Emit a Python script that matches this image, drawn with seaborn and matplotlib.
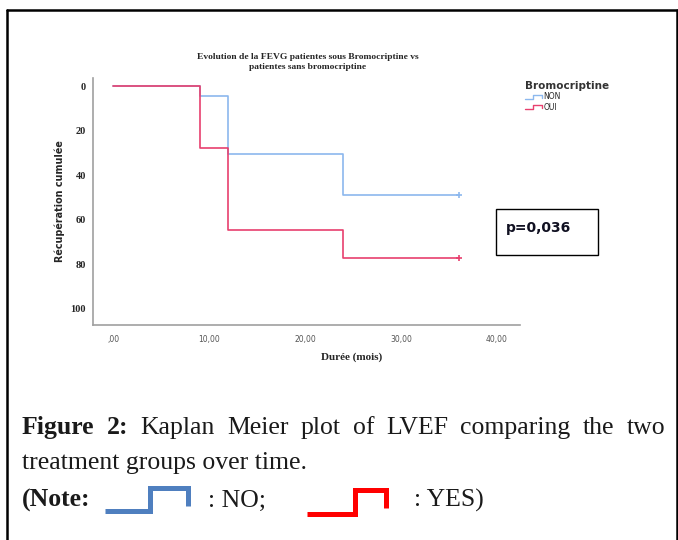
import numpy as np
import pandas as pd
import matplotlib
matplotlib.use("Agg")
import matplotlib.pyplot as plt
import seaborn as sns
from matplotlib.lines import Line2D
from matplotlib.legend_handler import HandlerBase
from matplotlib.patches import Rectangle

# Kaplan-Meier step values
time_points = [0, 9, 12, 24, 36]
recup_non = [0, 4.5, 30.5, 49, 49]
recup_oui = [0, 28, 64.5, 77, 77]
groups = ["NON", "OUI"]
x_ticks = [0, 10, 20, 30, 40]
x_labels = [",00", "10,00", "20,00", "30,00", "40,00"]
y_ticks = [0, 20, 40, 60, 80, 100]

colors = {"NON": "#8cb8ee", "OUI": "#e8406e"}

df = pd.DataFrame({
    "time": time_points * 2,
    "recup": recup_non + recup_oui,
    "group": ["NON"] * len(time_points) + ["OUI"] * len(time_points),
})

sns.set_style("white")
W, H = 678, 540
fig = plt.figure(figsize=(W / 100, H / 100), dpi=100)
fig.patch.set_facecolor("white")

def fx(px):
    return px / W

def fy(py):
    return 1 - py / H

ax = fig.add_axes([fx(93), fy(325), fx(520) - fx(93), fy(78) - fy(325)])
sns.lineplot(data=df, x="time", y="recup", hue="group", palette=colors,
             drawstyle="steps-post", linewidth=1.2, ax=ax, legend=False,
             estimator=None)
# censor marks at end of follow-up
for g, vals in zip(groups, [recup_non, recup_oui]):
    ax.plot(time_points[-1], vals[-1], marker="+", ms=4, mew=1.2, color=colors[g])

ax.set_xlim(-2.1, 42.4)
ax.set_ylim(107.2, -3.6)
ax.set_xticks(x_ticks)
ax.set_xticklabels(x_labels, fontsize=5.5, color="#555555")
ax.set_yticks(y_ticks)
ax.set_yticklabels([str(v) for v in y_ticks], fontsize=7.5, fontweight="bold",
                   family="Liberation Serif")
ax.tick_params(axis="both", length=0, pad=5)
ax.tick_params(axis="x", pad=7)
for side in ["top", "right"]:
    ax.spines[side].set_visible(False)
for side in ["left", "bottom"]:
    ax.spines[side].set_color("#a0a0a0")
    ax.spines[side].set_linewidth(1.2)
ax.set_xlabel("")
ax.set_ylabel("")

fig.text(fx(60), fy(201), "Récupération cumulée", rotation=90, ha="center",
         va="center", fontsize=6.9, fontweight="bold", family="DejaVu Sans")
fig.text(fx(352), fy(357), "Durée (mois)", ha="center", va="center",
         fontsize=8, fontweight="bold", family="Liberation Serif")
fig.text(fx(308), fy(62), "Evolution de la FEVG patientes sous Bromocriptine vs\npatientes sans bromocriptine",
         ha="center", va="center", fontsize=6.8, fontweight="bold",
         family="Liberation Serif", linespacing=1.45)


# legend with step-shaped glyphs
class StepHandler(HandlerBase):
    def create_artists(self, legend, orig_handle, xdescent, ydescent, width,
                       height, fontsize, trans):
        xs = [0, width * 0.45, width * 0.45, width, width]
        ys = [height * 0.15, height * 0.15, height * 0.85, height * 0.85, height * 0.35]
        ln = Line2D(np.array(xs) - xdescent, np.array(ys) - ydescent,
                    color=orig_handle.get_color(), lw=1.0)
        ln.set_transform(trans)
        return [ln]


handles = [Line2D([], [], color=colors[g]) for g in groups]
leg = fig.legend(handles, groups, handler_map={Line2D: StepHandler()},
                 loc="upper left", bbox_to_anchor=(fx(520), fy(76)),
                 frameon=False, title="Bromocriptine", alignment="left",
                 prop={"size": 5.5, "family": "DejaVu Sans"},
                 handlelength=2.2, handleheight=0.8, handletextpad=0.2,
                 labelspacing=0.15, borderpad=0.2)
leg.get_title().set_fontsize(7.5)
leg.get_title().set_fontweight("bold")
leg.get_title().set_color("#333333")

# p-value box
fig.add_artist(Rectangle((fx(496), fy(255)), fx(598) - fx(496), fy(209) - fy(255),
                         transform=fig.transFigure, fill=False, ec="black", lw=1.0))
fig.text(fx(506), fy(228), "p=0,036", ha="left", va="center", fontsize=10,
         fontweight="bold", family="DejaVu Sans", color="#111122")

# outer frame
frame_kw = dict(color="black", lw=1.8, transform=fig.transFigure)
fig.add_artist(Line2D([fx(7), fx(677)], [fy(10), fy(10)], **frame_kw))
fig.add_artist(Line2D([fx(7), fx(7)], [fy(10), fy(540)], **frame_kw))
fig.add_artist(Line2D([fx(677), fx(677)], [fy(10), fy(540)], **frame_kw))

# caption
cap_font = dict(family="Liberation Serif", fontsize=18.5, va="baseline", color="#1a1a1a")
fig.canvas.draw()
renderer = fig.canvas.get_renderer()

line1 = [("Figure", "bold"), ("2:", "bold"), ("Kaplan", "normal"), ("Meier", "normal"),
         ("plot", "normal"), ("of", "normal"), ("LVEF", "normal"), ("comparing", "normal"),
         ("the", "normal"), ("two", "normal")]
texts = []
widths = []
for word, wt in line1:
    t = fig.text(0, 0, word, fontweight=wt, **cap_font)
    widths.append(t.get_window_extent(renderer=renderer).width)
    texts.append(t)
x0, x1 = 22, 665
gap = (x1 - x0 - sum(widths)) / (len(widths) - 1)
xpos = x0
for t, w in zip(texts, widths):
    t.set_position((fx(xpos), fy(434)))
    xpos += w + gap

fig.text(fx(22), fy(469), "treatment groups over time.", fontweight="normal", **cap_font)
fig.text(fx(22), fy(507), "(Note:", fontweight="bold", **cap_font)
fig.text(fx(208), fy(507), ": NO;", fontweight="normal", **cap_font)
fig.text(fx(414), fy(507), ": YES)", fontweight="normal", **cap_font)

icon_kw = dict(lw=3.6, transform=fig.transFigure, solid_capstyle="butt",
               solid_joinstyle="miter")
fig.add_artist(Line2D([fx(105), fx(150), fx(150), fx(188), fx(188)],
                      [fy(511), fy(511), fy(488), fy(488), fy(506)],
                      color="#4f7fbf", **icon_kw))
fig.add_artist(Line2D([fx(307), fx(355), fx(355), fx(386), fx(386)],
                      [fy(514), fy(514), fy(490), fy(490), fy(508)],
                      color="#ff0000", **icon_kw))

fig.savefig("out.png", dpi=100)
